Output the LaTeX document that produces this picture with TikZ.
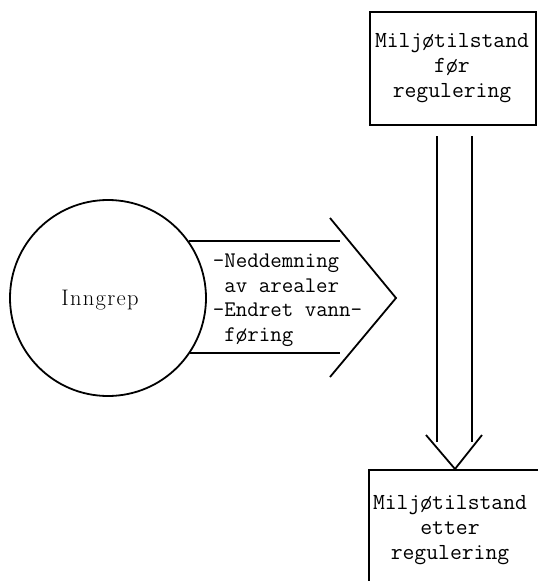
\documentclass[tikz,border=0pt]{standalone}
\usepackage{fontspec}
\newfontfamily\typew{Latin Modern Mono}
\newfontfamily\romanls[LetterSpace=6]{Latin Modern Roman}
\begin{document}
\begin{tikzpicture}[x=1pt,y=-1pt,
  line width=1.8pt, line join=miter,
  boxtxt/.style={font=\typew\fontsize{23}{25}\selectfont, align=center, inner sep=0pt},
  frame/.style={draw, inner sep=0pt},
  arrtxt/.style={font=\typew\fontsize{22.3}{24.5}\selectfont, align=left, inner sep=0pt, anchor=north west}]
\useasboundingbox (0,0) rectangle (538,581);
\clip (0,0) rectangle (538,581);
% circle
\node[circle, draw, minimum size=196pt, inner sep=0pt] (inn) at (108,298) {};
\node[font=\romanls\fontsize{22.5}{24}\selectfont, inner sep=0pt] (inntxt) at (100,300) {Inngrep};
% boxes
\node[frame, minimum width=166pt, minimum height=113pt] (before) at (453,68.5) {};
\node[boxtxt] (beforetxt) at (452,68) {Miljøtilstand\\før\\regulering};
\node[frame, minimum width=180pt, minimum height=130pt, anchor=north west] (after) at (368,469) {};
\node[boxtxt] (aftertxt) at (450,530) {Miljøtilstand\\etter\\regulering};
% horizontal arrow
\coordinate (hend) at (340,0);
\draw (inn.35.6) -- (inn.35.6 -| hend);
\draw (inn.-34.9) -- (inn.-34.9 -| hend);
\coordinate (c1) at (330,218);
\coordinate (c2) at (396,298);
\coordinate (c3) at (330,377);
\draw (c1) -- (c2) -- (c3);
\node[arrtxt] (arrtxt) at (212,253) {-Neddemning\\\hphantom{-}av arealer\\-Endret vann-\\\hphantom{-}føring};
% vertical arrow
\coordinate (v1t) at (437,136);
\coordinate (v1b) at (437,442);
\coordinate (v2t) at (472,136);
\coordinate (v2b) at (472,442);
\draw (v1t) -- (v1b);
\draw (v2t) -- (v2b);
\coordinate (d1) at (426,435);
\coordinate (d3) at (482,435);
\draw (d1) -- (after.north -| 455,0) -- (d3);
\end{tikzpicture}
\end{document}
